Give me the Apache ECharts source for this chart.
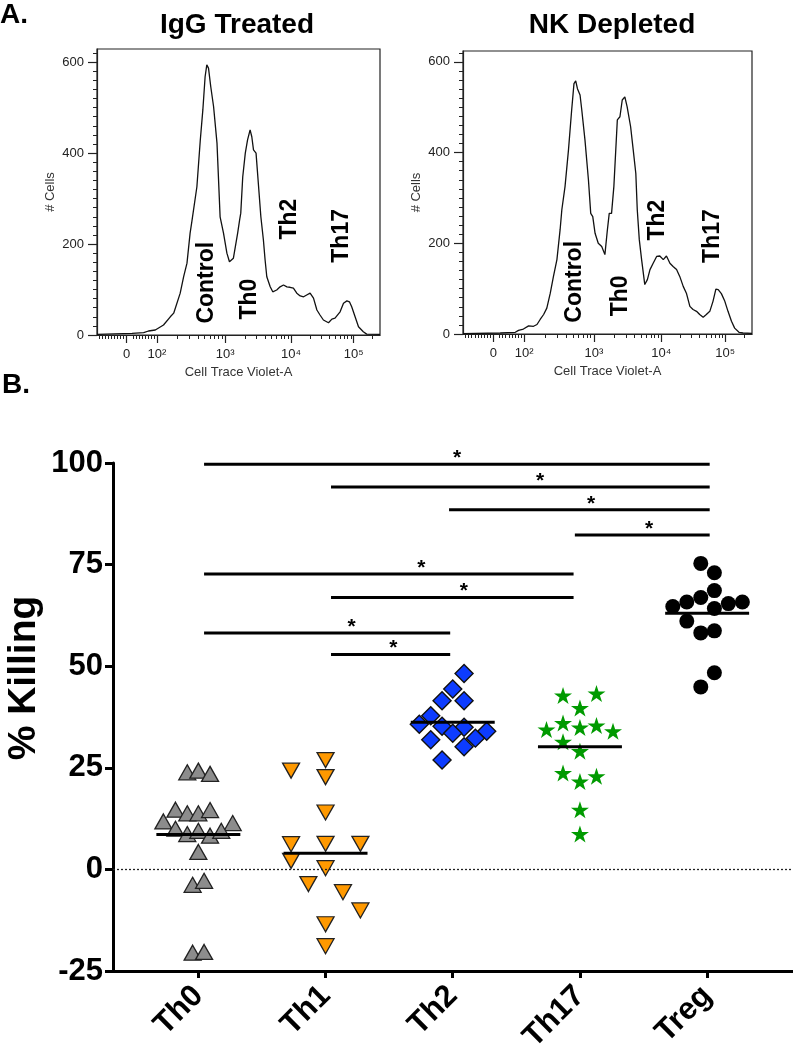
<!DOCTYPE html>
<html><head><meta charset="utf-8">
<script src="https://cdn.jsdelivr.net/npm/echarts@6/dist/echarts.min.js"></script>
<style>html,body{margin:0;padding:0;background:#fff}#c{width:793px;height:1050px}</style>
</head><body><div id="c"></div>
<script>
const FONT = "'Liberation Sans', Arial, Helvetica, sans-serif";

// ---------- Panel A: histograms ----------
const histTickLabels = ['0', '10²', '10³', '10⁴', '10⁵'];
const histTickPos = [105, 212, 453, 686, 907];           // display channel of each decade label
const histYTicks = [0, 200, 400, 600];

const iggChannel = [0,124,165,182,206,235,259,271,294,306,318,329,335,341,353,365,374,382,388,394,402,412,424,435,441,447,459,468,482,488,497,504,508,515,524,532,541,547,553,562,571,579,586,588,594,600,612,621,635,647,659,665,671,682,694,706,718,730,741,753,759,765,777,788,800,818,830,841,847,859,871,883,892,900,912,924,941,953,1000];
const iggCount = [1.5,3.7,5.1,8.8,11,22,40,48,92,128,158,224,249,253,326,429,495,568,594,587,546,502,422,260,260,224,180,161,169,169,224,253,268,348,400,429,451,436,407,400,326,260,260,209,165,128,106,95,99,106,110,114,106,105,103,92,86,84,88,92,95,81,55,44,33,27,35,37,40,51,70,75,73,62,40,18,7,2,1.5];

const nkChannel = [0,129,181,192,209,227,244,256,267,279,290,302,313,325,336,342,348,353,365,376,384,390,396,405,411,422,434,442,449,457,468,480,491,499,506,514,522,534,543,551,560,568,580,589,598,603,610,618,629,638,647,658,670,681,693,704,716,727,739,750,762,773,785,796,808,819,831,842,854,865,875,883,894,906,917,929,940,955,969,1000];
const nkCount = [0.7,2.2,3.7,8.1,11,18,17,21,32,43,57,90,127,164,230,274,277,325,406,494,552,558,541,527,494,428,340,266,259,222,200,193,175,226,266,266,325,472,479,516,523,501,457,406,354,274,208,164,109,120,142,156,171,172,164,172,156,149,142,127,105,90,61,54,50,43,37,43,50,72,99,98,89,72,50,28,13,3.7,2.2,1.5];

const peakNames = ['Control', 'Th0', 'Th2', 'Th17'];
const iggPeakAt = [[388,115],[541,79],[682,255],[865,218]];
const nkPeakAt  = [[388,115],[547,84],[675,251],[863,216]];

// ---------- Panel B: % killing ----------
const categories = ['Th0', 'Th1', 'Th2', 'Th17', 'Treg'];
const th0Values  = [23.9,24.3,23.5,14.7,13.8,13.8,14.6,11.8,11.4,10.0,8.7,9.5,8.3,9.5,4.3,-3.8,-2.8,-20.5,-20.3];
const th0Jitter  = [-0.087,0,0.092,-0.18,-0.087,0,0.092,-0.275,0.27,-0.18,-0.087,0,0.092,0.18,0,-0.045,0.045,-0.045,0.045];
const th1Values  = [24.3,26.9,22.7,14.0,6.2,6.3,6.3,2.1,0.3,-3.6,-5.6,-10.1,-13.5,-18.9];
const th1Jitter  = [-0.271,0,0,0,-0.271,0,0.274,-0.271,0,-0.135,0.137,0.274,0,0];
const th2Values  = [48.2,44.4,41.5,41.5,37.8,35.7,35.2,35.0,33.5,34.0,32.3,31.9,30.2,26.9];
const th2Jitter  = [0.089,0,-0.084,0.089,-0.173,-0.263,-0.084,0.089,0,0.267,0.178,-0.173,0.089,-0.084];
const th17Values = [42.8,43.3,39.7,36.0,34.9,35.4,34.4,34.0,31.4,29.1,23.7,22.9,21.6,14.7,8.7];
const th17Jitter = [-0.133,0.13,0,-0.133,0,0.13,-0.263,0.26,-0.133,0,-0.133,0.13,0,0,0];
const tregValues = [75.3,73.0,68.6,66.9,65.8,64.7,65.4,65.8,64.2,61.1,58.2,58.7,48.4,44.9];
const tregJitter = [-0.05,0.057,0.057,-0.05,-0.16,-0.27,0.167,0.277,0.057,-0.16,-0.05,0.057,0.057,-0.05];
const groupMeans = [8.6, 4.0, 36.2, 30.2, 63.0];

const sigFrom  = [1.045, 2.043, 2.971, 3.96, 1.045, 2.043, 1.045, 2.043];
const sigTo    = [5.02, 5.02, 5.02, 5.02, 3.95, 3.95, 2.98, 2.98];
const sigLevel = [99.7, 94.1, 88.5, 82.3, 72.7, 66.9, 58.2, 52.9];
const sigStarX = [3.034, 3.686, 4.087, 4.543, 2.753, 3.087, 2.204, 2.533];
const killTicks = [-25, 0, 25, 50, 75, 100];

// ---------- build ----------
const pairs = (xs, ys) => xs.map((x, i) => [x, ys[i]]);

// minor ticks of the biexponential-style display axis
const histMinorX = [];
for (let m = 1; m < 10; m++) {
  histMinorX.push(histTickPos[0] - (histTickPos[1] - histTickPos[0]) * m / 10);
  if (m > 1) histMinorX.push(histTickPos[0] + (histTickPos[1] - histTickPos[0]) * m / 10);
}
for (let d = 1; d < 5; d++) {
  const a = histTickPos[d];
  const b = d < 4 ? histTickPos[d + 1] : histTickPos[4] + (histTickPos[4] - histTickPos[3]);
  for (let m = 2; m < 10; m++) {
    const p = a + (b - a) * Math.log10(m);
    if (p <= 1000) histMinorX.push(p);
  }
}
function histMinorY(max) {
  const r = [];
  for (let v = 20; v <= max; v += 20) if (v % 200 !== 0) r.push(v);
  return r;
}

const axisCol = '#222';
function histX(grid) {
  return [
    { gridIndex: grid, type: 'value', position: 'bottom', min: 0, max: 1000,
      axisLine: { show: true, onZero: false, lineStyle: { color: axisCol, width: 1.2 } },
      axisTick: { show: true, customValues: histTickPos, length: 8, lineStyle: { color: axisCol, width: 1.2 } },
      axisLabel: { customValues: histTickPos, formatter: v => histTickLabels[histTickPos.indexOf(v)], fontSize: 13, color: axisCol, margin: 13 },
      splitLine: { show: false },
      name: 'Cell Trace Violet-A', nameLocation: 'middle', nameGap: 31,
      nameTextStyle: { fontSize: 13, color: '#333' } },
    { gridIndex: grid, type: 'value', position: 'bottom', min: 0, max: 1000,
      axisLine: { show: false, onZero: false },
      axisTick: { show: true, customValues: histMinorX, length: 4, lineStyle: { color: axisCol, width: 1 } },
      axisLabel: { show: false }, splitLine: { show: false } }
  ];
}
function histY(grid, max) {
  return [
    { gridIndex: grid, type: 'value', position: 'left', min: 0, max: max,
      axisLine: { show: true, onZero: false, lineStyle: { color: axisCol, width: 1.2 } },
      axisTick: { show: true, customValues: histYTicks, length: 9, lineStyle: { color: axisCol, width: 1.2 } },
      axisLabel: { customValues: histYTicks, fontSize: 13, color: axisCol, margin: 13 },
      splitLine: { show: false },
      name: '# Cells', nameLocation: 'middle', nameGap: 40, nameRotate: 90,
      nameTextStyle: { fontSize: 13, color: '#333' } },
    { gridIndex: grid, type: 'value', position: 'left', min: 0, max: max,
      axisLine: { show: false, onZero: false },
      axisTick: { show: true, customValues: histMinorY(max), length: 4, lineStyle: { color: axisCol, width: 1 } },
      axisLabel: { show: false }, splitLine: { show: false } }
  ];
}

const hiddenDot = { color: 'transparent', opacity: 1, borderWidth: 0 };
function histSeries(xi, yi, chs, cnts, peaks) {
  return [
    { type: 'line', xAxisIndex: xi, yAxisIndex: yi, data: pairs(chs, cnts), symbol: 'none',
      lineStyle: { color: '#111', width: 1.3 }, silent: true, animation: false },
    { type: 'scatter', xAxisIndex: xi, yAxisIndex: yi, symbolSize: 1, itemStyle: hiddenDot,
      data: peaks.map((p, i) => ({ value: p, name: peakNames[i] })),
      label: { show: true, position: 'inside', rotate: 90, formatter: p => p.name,
               fontSize: 23, fontWeight: 'bold', color: '#000', opacity: 1, textBorderWidth: 0 }, silent: true }
  ];
}

const starPath = 'path://M50,0 L61.2,34.5 L97.6,34.5 L68.2,55.9 L79.4,90.5 L50,69.1 L20.6,90.5 L31.8,55.9 L2.4,34.5 L38.8,34.5 Z';
const groupStyles = [
  { symbol: 'triangle', size: [17, 15], rot: 0, color: '#8c8c8c', border: '#222', bw: 1.3 },
  { symbol: 'triangle', size: [17, 15], rot: 180, color: '#ff9900', border: '#222', bw: 1.3 },
  { symbol: 'diamond', size: [18, 18], rot: 0, color: '#0d3cff', border: '#111', bw: 1.4 },
  { symbol: starPath, size: [18, 17], rot: 0, color: '#009a00', border: '#009a00', bw: 0 },
  { symbol: 'circle', size: 15, rot: 0, color: '#000', border: '#000', bw: 0 }
];
const groupValues = [th0Values, th1Values, th2Values, th17Values, tregValues];
const groupJitter = [th0Jitter, th1Jitter, th2Jitter, th17Jitter, tregJitter];

const bSeries = [];
groupValues.forEach((vals, g) => {
  const st = groupStyles[g];
  const s = {
    type: 'scatter', xAxisIndex: 4, yAxisIndex: 4, z: 3,
    data: vals.map((v, i) => [g + 1 + groupJitter[g][i], v]),
    symbol: st.symbol, symbolSize: st.size, symbolRotate: st.rot,
    itemStyle: { color: st.color, borderColor: st.border, borderWidth: st.bw, opacity: 1 },
    silent: true, animation: false
  };
  if (g === 0) {
    s.markLine = { silent: true, symbol: 'none', label: { show: false }, animation: false,
      lineStyle: { type: [2, 2], color: '#222', width: 1.3 }, data: [{ yAxis: 0 }] };
  }
  bSeries.push(s);
});
groupMeans.forEach((m, g) => {
  bSeries.push({ type: 'line', xAxisIndex: 4, yAxisIndex: 4, z: 4, symbol: 'none', silent: true, animation: false,
    data: [[g + 1 - 0.33, m], [g + 1 + 0.33, m]], lineStyle: { color: '#000', width: 3 } });
});
sigLevel.forEach((lv, k) => {
  bSeries.push({ type: 'line', xAxisIndex: 4, yAxisIndex: 4, z: 4, symbol: 'none', silent: true, animation: false,
    data: [[sigFrom[k], lv], [sigTo[k], lv]], lineStyle: { color: '#000', width: 3 } });
});
bSeries.push({ type: 'scatter', xAxisIndex: 4, yAxisIndex: 4, z: 5, symbolSize: 1, itemStyle: hiddenDot,
  data: sigStarX.map((x, k) => [x, sigLevel[k]]), silent: true, animation: false,
  label: { show: true, position: 'inside', offset: [0, -6], formatter: '*', fontSize: 21, fontWeight: 'bold',
           color: '#000', opacity: 1, textBorderWidth: 0 } });

const option = {
  animation: false,
  textStyle: { fontFamily: FONT },
  grid: [
    { left: 97, top: 49, width: 283, height: 286, show: true, borderColor: axisCol, borderWidth: 1.2, outerBoundsMode: 'none' },
    { left: 463, top: 51, width: 289, height: 283, show: true, borderColor: axisCol, borderWidth: 1.2, outerBoundsMode: 'none' },
    { left: 113, top: 463, right: 0, bottom: 79, outerBoundsMode: 'none' }
  ],
  xAxis: [
    ...histX(0), ...histX(1),
    { gridIndex: 2, type: 'value', position: 'bottom', min: 0.329, max: 5.675,
      axisLine: { show: true, onZero: false, lineStyle: { color: '#000', width: 3 } },
      axisTick: { show: true, customValues: [1, 2, 3, 4, 5], length: 7, lineStyle: { color: '#000', width: 3 } },
      axisLabel: { customValues: [1, 2, 3, 4, 5], formatter: v => categories[Math.round(v) - 1],
                   rotate: 45, fontSize: 31, fontWeight: 'bold', color: '#000', margin: 20 },
      splitLine: { show: false } }
  ],
  yAxis: [
    ...histY(0, 629), ...histY(1, 624),
    { gridIndex: 2, type: 'value', position: 'left', min: -25, max: 100, interval: 25,
      axisLine: { show: true, onZero: false, lineStyle: { color: '#000', width: 3 } },
      axisTick: { show: true, length: 8, lineStyle: { color: '#000', width: 3 } },
      axisLabel: { fontSize: 31, fontWeight: 'bold', color: '#000', margin: 10,
                   formatter: v => killTicks.includes(v) ? String(v) : '' },
      splitLine: { show: false } }
  ],
  graphic: [
    { type: 'text', x: 0, y: 15, style: { text: 'A.', fontSize: 28, fontWeight: 'bold', fontFamily: FONT, fill: '#000', align: 'left', verticalAlign: 'middle' } },
    { type: 'text', x: 2, y: 385, style: { text: 'B.', fontSize: 28, fontWeight: 'bold', fontFamily: FONT, fill: '#000', align: 'left', verticalAlign: 'middle' } },
    { type: 'text', x: 237, y: 25, style: { text: 'IgG Treated', fontSize: 28, fontWeight: 'bold', fontFamily: FONT, fill: '#000', align: 'center', verticalAlign: 'middle' } },
    { type: 'text', x: 612, y: 25, style: { text: 'NK Depleted', fontSize: 28, fontWeight: 'bold', fontFamily: FONT, fill: '#000', align: 'center', verticalAlign: 'middle' } },
    { type: 'text', x: 24, y: 678, rotation: Math.PI / 2, style: { text: '% Killing', fontSize: 39, fontWeight: 'bold', fontFamily: FONT, fill: '#000', align: 'center', verticalAlign: 'middle' } }
  ],
  series: [
    ...histSeries(0, 0, iggChannel, iggCount, iggPeakAt),
    ...histSeries(2, 2, nkChannel, nkCount, nkPeakAt),
    ...bSeries
  ]
};
const chart = echarts.init(document.getElementById('c'));
chart.setOption(option);
</script></body></html>
